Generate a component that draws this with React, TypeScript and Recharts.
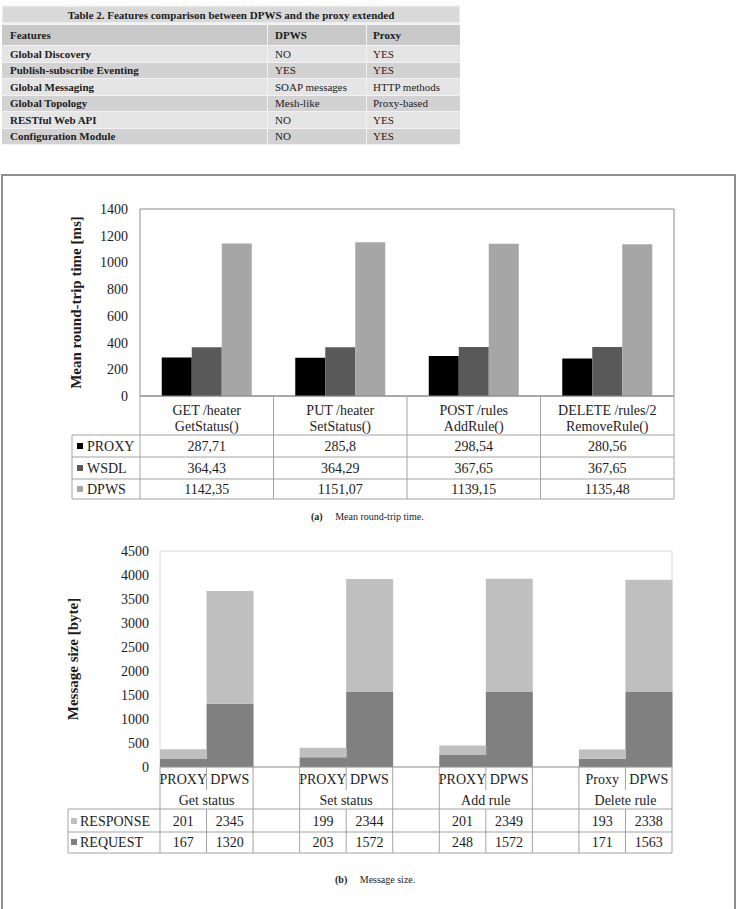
import React from 'react'
import { BarChart, Bar, XAxis, YAxis, ReferenceArea } from 'recharts'

const FONT = '"Liberation Serif", "Times New Roman", serif'

// Table 2 content
const tableTitle = 'Table 2. Features comparison between DPWS and the proxy extended'
const featureNames = ['Global Discovery', 'Publish-subscribe Eventing', 'Global Messaging', 'Global Topology', 'RESTful Web API', 'Configuration Module']
const dpwsFeatures = ['NO', 'YES', 'SOAP messages', 'Mesh-like', 'NO', 'NO']
const proxyFeatures = ['YES', 'YES', 'HTTP methods', 'Proxy-based', 'YES', 'YES']

// (a) mean round-trip time
const rttMethods = ['GET /heater', 'PUT /heater', 'POST /rules', 'DELETE /rules/2']
const rttCalls = ['GetStatus()', 'SetStatus()', 'AddRule()', 'RemoveRule()']
const rttProxy = [287.71, 285.8, 298.54, 280.56]
const rttWsdl = [364.43, 364.29, 367.65, 367.65]
const rttDpws = [1142.35, 1151.07, 1139.15, 1135.48]
const rttTicks = [0, 200, 400, 600, 800, 1000, 1200, 1400]

// (b) message size
const sizeColumns = ['PROXY', 'DPWS', '', 'PROXY', 'DPWS', '', 'PROXY', 'DPWS', '', 'Proxy', 'DPWS']
const sizeGroups = ['Get status', 'Set status', 'Add rule', 'Delete rule']
const sizeResponse = [201, 2345, null, 199, 2344, null, 201, 2349, null, 193, 2338]
const sizeRequest = [167, 1320, null, 203, 1572, null, 248, 1572, null, 171, 1563]
const sizeTicks = [0, 500, 1000, 1500, 2000, 2500, 3000, 3500, 4000, 4500]

const rttData = rttMethods.map((m, i) => ({ key: 'r' + i, proxy: rttProxy[i], wsdl: rttWsdl[i], dpws: rttDpws[i] }))
const sizeData = sizeColumns.map((c, i) => ({ key: 's' + i, request: sizeRequest[i], response: sizeResponse[i] }))

const COLORS = { proxy: '#000000', wsdl: '#595959', dpws: '#a6a6a6', request: '#808080', response: '#bfbfbf' }
const LINE = '#a3a3a3'
const TXT = '#1c1c1c'

// geometry (svg coords)
const W = 739
const C1 = { top: 19, right: 65, bottom: 11, left: 80, h: 320 }
const P1 = { left: 140, right: 674, bottom: 206 }
const BAND1 = (P1.right - P1.left) / rttMethods.length
const C2 = { top: 11, right: 67, bottom: 17, left: 100, h: 330 }
const P2 = { left: 160, right: 672, bottom: 227 }
const BAND2 = (P2.right - P2.left) / sizeColumns.length

const fmt = (v: number) => String(v).replace('.', ',')

const T = (p: any) => (
  <text fontFamily={FONT} fontSize={14} fill={TXT} textAnchor="middle" dominantBaseline="central" {...p} />
)
const L = (p: any) => <line stroke={LINE} strokeWidth={1} {...p} />

const RttTick = (props: any) => {
  const { x, index } = props
  const l = x - BAND1 / 2
  const r = x + BAND1 / 2
  const rows = [245, 267, 289, 309]
  const vals = [rttProxy, rttWsdl, rttDpws]
  const centers = [256, 278, 299]
  const legend = [
    { name: 'PROXY', color: COLORS.proxy },
    { name: 'WSDL', color: COLORS.wsdl },
    { name: 'DPWS', color: COLORS.dpws },
  ]
  return (
    <g>
      <L x1={l} x2={l} y1={P1.bottom} y2={309} />
      {index === rttMethods.length - 1 && <L x1={r} x2={r} y1={P1.bottom} y2={309} />}
      {rows.map((y) => <L key={y} x1={l} x2={r} y1={y} y2={y} />)}
      <T x={x} y={220}>{rttMethods[index]}</T>
      <T x={x} y={236}>{rttCalls[index]}</T>
      {vals.map((v, k) => <T key={k} x={x} y={centers[k]}>{fmt(v[index])}</T>)}
      {index === 0 && (
        <g>
          <L x1={72} x2={72} y1={245} y2={309} />
          {rows.map((y) => <L key={'l' + y} x1={72} x2={P1.left} y1={y} y2={y} />)}
          {legend.map((s, k) => (
            <g key={s.name}>
              <rect x={77} y={centers[k] - 3} width={6} height={6} fill={s.color} />
              <T x={87} y={centers[k]} textAnchor="start">{s.name}</T>
            </g>
          ))}
        </g>
      )}
    </g>
  )
}

const SizeTick = (props: any) => {
  const { x, index } = props
  const l = x - BAND2 / 2
  const r = x + BAND2 / 2
  const second = index % 3 === 1
  const rows = [269, 292, 313]
  const legend = [
    { name: 'RESPONSE', color: COLORS.response, y: 281 },
    { name: 'REQUEST', color: COLORS.request, y: 302 },
  ]
  return (
    <g>
      {second ? (
        <g>
          <L x1={l} x2={l} y1={P2.bottom} y2={250} />
          <L x1={l} x2={l} y1={269} y2={313} />
        </g>
      ) : (
        <L x1={l} x2={l} y1={P2.bottom} y2={313} />
      )}
      {index === sizeColumns.length - 1 && <L x1={r} x2={r} y1={P2.bottom} y2={313} />}
      {rows.map((y) => <L key={y} x1={l} x2={r} y1={y} y2={y} />)}
      {sizeColumns[index] && <T x={x} y={239}>{sizeColumns[index]}</T>}
      {second && <T x={l} y={260}>{sizeGroups[Math.floor(index / 3)]}</T>}
      {sizeResponse[index] != null && <T x={x} y={281}>{sizeResponse[index]}</T>}
      {sizeRequest[index] != null && <T x={x} y={302}>{sizeRequest[index]}</T>}
      {index === 0 && (
        <g>
          <L x1={68} x2={68} y1={269} y2={313} />
          {rows.map((y) => <L key={'l' + y} x1={68} x2={P2.left} y1={y} y2={y} />)}
          {legend.map((s) => (
            <g key={s.name}>
              <rect x={71} y={s.y - 3} width={6} height={6} fill={s.color} />
              <T x={80} y={s.y} textAnchor="start">{s.name}</T>
            </g>
          ))}
        </g>
      )}
    </g>
  )
}

const AxisTitle = ({ cx, cy, text }: any) => (
  <text
    x={cx}
    y={cy}
    transform={`rotate(-90 ${cx} ${cy})`}
    textAnchor="middle"
    dominantBaseline="central"
    fontFamily={FONT}
    fontSize={15}
    fontWeight="bold"
    fill={TXT}
  >
    {text}
  </text>
)

const yTick = { fontFamily: FONT, fontSize: 14, fill: TXT }

const FeatureTable = () => {
  const cell = (bg: string, bold: boolean, w?: number) => ({
    background: bg,
    fontWeight: bold ? 'bold' : 'normal',
    display: 'flex',
    alignItems: 'center',
    boxSizing: 'border-box',
    width: w,
    flex: w ? undefined : 1,
  } as React.CSSProperties)
  const rowStyle = (top: number, h: number) => ({
    position: 'absolute', left: 0, top, height: h, width: 458, display: 'flex', gap: 1,
  } as React.CSSProperties)
  return (
    <div style={{ position: 'absolute', left: 2, top: 5, width: 458, height: 140, fontFamily: FONT, fontSize: 11, color: TXT, background: '#f2f2f2' }}>
      <div style={{ ...rowStyle(1, 17), justifyContent: 'center', alignItems: 'center', background: '#d9d9d9', fontWeight: 'bold', border: '1px solid #ececec', boxSizing: 'border-box' }}>
        {tableTitle}
      </div>
      <div style={rowStyle(20, 20)}>
        <div style={{ ...cell('#c9c9c9', true, 265), paddingLeft: 8 }}>Features</div>
        <div style={{ ...cell('#c9c9c9', true, 98), paddingLeft: 7 }}>DPWS</div>
        <div style={{ ...cell('#c9c9c9', true), paddingLeft: 6 }}>Proxy</div>
      </div>
      {featureNames.map((f, i) => {
        const bg = i % 2 === 0 ? '#e5e5e5' : '#d2d2d2'
        return (
          <div key={f} style={rowStyle(41 + i * 16.5, 15.5)}>
            <div style={{ ...cell(bg, true, 265), paddingLeft: 8 }}>{f}</div>
            <div style={{ ...cell(bg, false, 98), paddingLeft: 7 }}>{dpwsFeatures[i]}</div>
            <div style={{ ...cell(bg, false), paddingLeft: 6 }}>{proxyFeatures[i]}</div>
          </div>
        )
      })}
    </div>
  )
}

const Caption = ({ top, left, tag, text }: any) => (
  <div style={{ position: 'absolute', top, left, fontFamily: FONT, fontSize: 10, color: TXT, whiteSpace: 'pre' }}>
    <b>{tag}</b>{'     '}{text}
  </div>
)

export default function App() {
  return (
    <div style={{ position: 'absolute', left: 0, top: 0, width: W, height: 909, overflow: 'hidden', background: '#fff' }}>
      <FeatureTable />
      <div style={{ position: 'absolute', left: 1, top: 174, width: 735, height: 760, border: '2px solid #8f8f8f', boxSizing: 'border-box' }} />

      <div style={{ position: 'absolute', left: 0, top: 190 }}>
        <BarChart width={W} height={C1.h} data={rttData} margin={{ top: C1.top, right: C1.right, bottom: C1.bottom, left: C1.left }} barCategoryGap="16.3%" barGap={0}>
          <XAxis dataKey="key" height={103} interval={0} tickLine={false} axisLine={{ stroke: '#8c8c8c' }} tick={<RttTick />} />
          <YAxis
            width={60}
            domain={[0, 1400]}
            ticks={rttTicks}
            tickLine={false}
            axisLine={false}
            tickMargin={6}
            tick={yTick}
            label={<AxisTitle cx={76} cy={C1.top + 93.5} text="Mean round-trip time [ms]" />}
          />
          <Bar dataKey="proxy" fill={COLORS.proxy} isAnimationActive={false} />
          <Bar dataKey="wsdl" fill={COLORS.wsdl} isAnimationActive={false} />
          <Bar dataKey="dpws" fill={COLORS.dpws} isAnimationActive={false} />
          <ReferenceArea y1={0} y2={1400} fill="none" stroke="#8c8c8c" strokeWidth={1} />
        </BarChart>
      </div>
      <Caption top={511} left={311} tag="(a)" text="Mean round-trip time." />

      <div style={{ position: 'absolute', left: 0, top: 540 }}>
        <BarChart width={W} height={C2.h} data={sizeData} margin={{ top: C2.top, right: C2.right, bottom: C2.bottom, left: C2.left }} barCategoryGap={0} barGap={0}>
          <ReferenceArea y1={0} y2={4500} fill="none" stroke="#dadada" strokeWidth={1} />
          <XAxis dataKey="key" height={86} interval={0} tickLine={false} axisLine={{ stroke: '#999999' }} tick={<SizeTick />} />
          <YAxis
            width={60}
            domain={[0, 4500]}
            ticks={sizeTicks}
            tickLine={false}
            axisLine={false}
            tickMargin={5}
            tick={yTick}
            label={<AxisTitle cx={73} cy={C2.top + 108} text="Message size [byte]" />}
          />
          <Bar dataKey="request" stackId="a" fill={COLORS.request} isAnimationActive={false} />
          <Bar dataKey="response" stackId="a" fill={COLORS.response} isAnimationActive={false} />
        </BarChart>
      </div>
      <Caption top={874} left={335} tag="(b)" text="Message size." />
    </div>
  )
}
